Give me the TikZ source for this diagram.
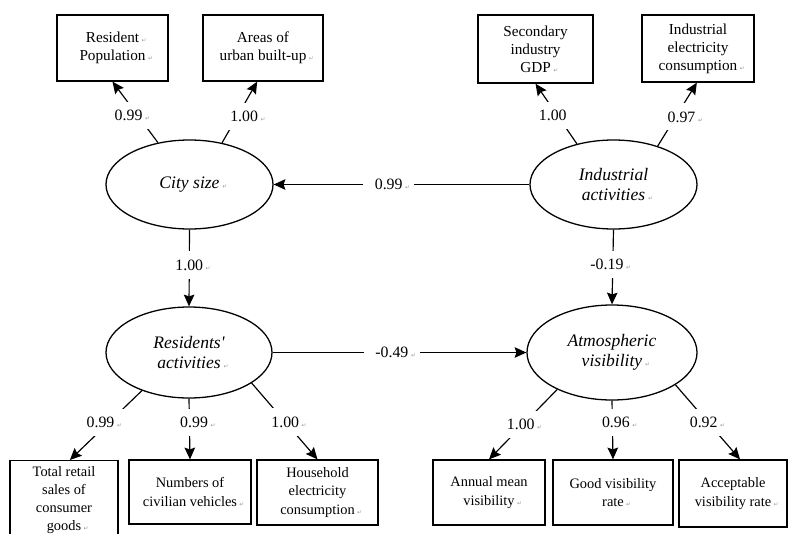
\documentclass[tikz,border=0pt]{standalone}
\usepackage{fontspec}
\setmainfont{Liberation Serif}
\newfontfamily\markfont{DejaVu Sans}
\usetikzlibrary{shapes.geometric,arrows.meta}
\newcommand\retmark{\rlap{\,{\markfont\upshape\fontsize{5}{5}\selectfont\color{black!40}↵}}}
\tikzset{
	latent/.style={draw, ellipse, line width=1.1pt, inner sep=0pt, align=center, font=\fontsize{15}{17.5}\selectfont\itshape},
	obsbox/.style={draw, rectangle, line width=1.1pt, inner sep=2pt, align=center, font=\fontsize{13}{15.5}\selectfont},
	obslow/.style={obsbox, font=\fontsize{12.3}{15.5}\selectfont},
	link/.style={line width=1pt, -{Stealth[length=10pt,width=9pt,inset=1.5pt]}},
	coef/.style={fill=white, inner xsep=10pt, inner ysep=7pt, font=\fontsize{13.5}{15}\selectfont}
}

\begin{document}
\begin{tikzpicture}[x=0.03cm, y=-0.03cm]
		%%%%% START %%%%%
		
		\useasboundingbox (0, 0) rectangle (788, 533);
		
		\node[obsbox, minimum width=3.33cm, minimum height=1.98cm] (respop) at (112.5, 48) {Resident\retmark\\Population\retmark};
		\node[obsbox, minimum width=3.6cm, minimum height=1.98cm] (areas) at (263, 48) {Areas of\\urban built-up\retmark};
		\node[obsbox, minimum width=3.45cm, minimum height=2.04cm] (gdp) at (535.5, 49) {Secondary\\industry\\GDP\retmark};
		\node[obsbox, minimum width=3.36cm, minimum height=2.01cm] (ielec) at (698, 48.5) {Industrial\\electricity\\consumption\retmark};
		
		\node[latent, minimum width=5.01cm, minimum height=2.67cm] (city) at (189.5, 184.5) {City size\retmark};
		\node[latent, minimum width=5.01cm, minimum height=2.67cm] (ind) at (613.5, 184.5) {Industrial\\activities\retmark};
		\node[latent, minimum width=4.98cm, minimum height=2.73cm] (res) at (189, 352.5) {Residents\textquotesingle\\activities\retmark};
		\node[latent, minimum width=5.1cm, minimum height=2.85cm] (atm) at (612, 352.5) {Atmospheric\\visibility\retmark};
		
		\node[obslow, anchor=north, minimum width=3.24cm, minimum height=2.35cm] (retail) at (64, 460) {Total retail\\sales of\\consumer\\goods\retmark};
		\node[obslow, minimum width=3.66cm, minimum height=1.92cm] (vehic) at (190, 492) {Numbers of\\civilian vehicles\retmark};
		\node[obslow, minimum width=3.63cm, minimum height=1.95cm] (house) at (317.5, 492.5) {Household\\electricity\\consumption\retmark};
		\node[obslow, minimum width=3.36cm, minimum height=1.95cm] (annual) at (489, 492.5) {Annual mean\\visibility\retmark};
		\node[obslow, minimum width=3.6cm, minimum height=1.95cm] (good) at (613, 492.5) {Good visibility\\rate\retmark};
		\node[obslow, minimum width=3.24cm, minimum height=2.01cm] (accept) at (733, 493.5) {Acceptable\\visibility rate\retmark};
		
		\draw[link] (city.127) -- node[coef, pos=0.44, xshift=-8pt] {0.99\retmark} (respop.south);
		\draw[link] (city.52) -- node[coef, pos=0.43, xshift=6pt] {1.00\retmark} ([xshift=-5pt]areas.south);
		\draw[link] (ind.132) -- node[coef, pos=0.47, xshift=-4pt] {1.00} (gdp.south);
		\draw[link] (ind.41) -- node[coef, pos=0.46, xshift=5pt] {0.97\retmark} ([xshift=-1pt]ielec.south);
		
		\draw[link] (ind.180) -- node[coef, pos=0.55] {0.99\retmark} (city.0);
		\draw[link] (city.270) -- node[coef, pos=0.46] {1.00\retmark} (res.90);
		\draw[link] (ind.270) -- node[coef, pos=0.47, xshift=-5pt] {-0.19\retmark} (atm.90);
		\draw[link] (res.0) -- node[coef, pos=0.47] {-0.49\retmark} (atm.180);
		
		\draw[link] (res.219) -- node[coef, pos=0.46, xshift=-7pt] {0.99\retmark} ([xshift=5pt]retail.north);
		\draw[link] (res.270) -- node[coef, pos=0.39, xshift=4pt] {0.99\retmark} (vehic.north);
		\draw[link] (res.334) -- node[coef, pos=0.51] {1.00\retmark} (house.north);
		\draw[link] (atm.214) -- node[coef, pos=0.5, xshift=-2pt] {1.00\retmark} (annual.north);
		\draw[link] (atm.270) -- node[coef, pos=0.37, xshift=3pt] {0.96\retmark} (good.north);
		\draw[link] (atm.333) -- node[coef, pos=0.51, xshift=-4pt] {0.92\retmark} ([xshift=6pt]accept.north);
		
		%%%%% END %%%%%
	\end{tikzpicture}
\end{document}
